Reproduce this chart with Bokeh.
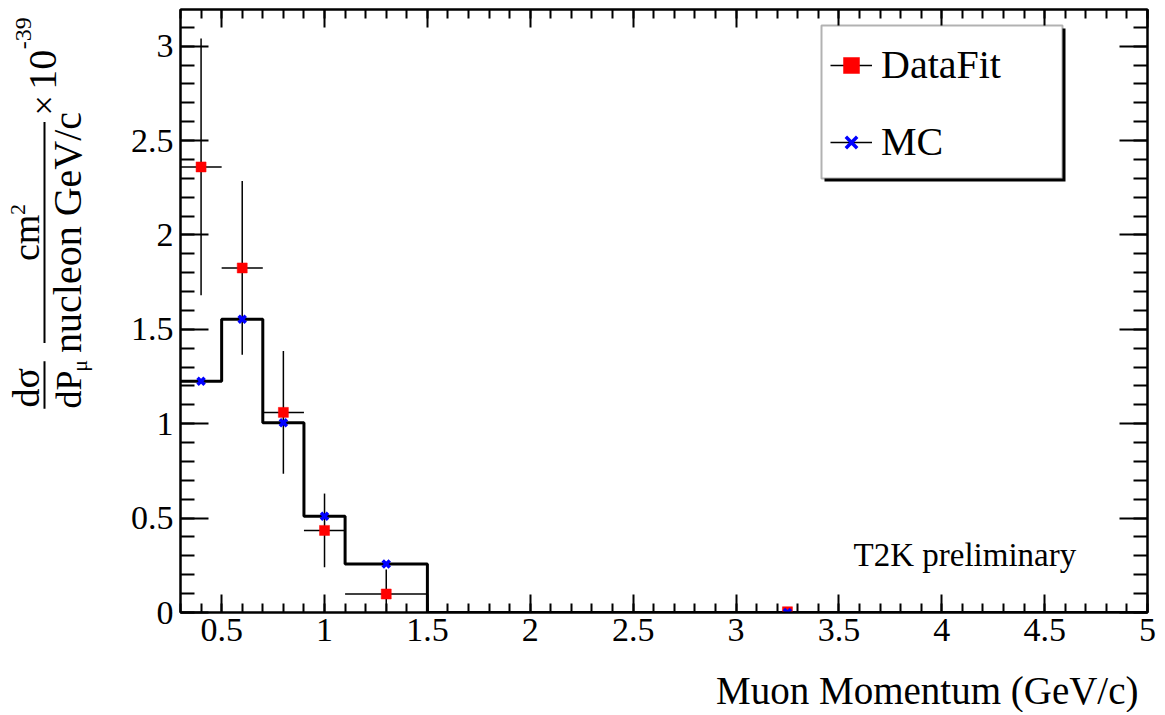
import math
from bokeh.plotting import figure
from bokeh.layouts import row, column
from bokeh.core.properties import value
from bokeh.models import (Range1d, LinearAxis, SingleIntervalTicker, NumeralTickFormatter,
                          CustomJSTickFormatter, Label, BoxAnnotation, Legend, LegendItem,
                          ColumnDataSource)
from bokeh.embed import file_html
from bokeh.resources import INLINE

# ---------------- data ----------------
bin_edges = [0.3, 0.5, 0.7, 0.9, 1.1, 1.5, 5.0]
bin_centers = [0.4, 0.6, 0.8, 1.0, 1.3, 3.25]
datafit = [2.36, 1.825, 1.06, 0.435, 0.098, 0.004]
datafit_err = [0.68, 0.46, 0.325, 0.195, 0.13, 0.004]
mc = [1.225, 1.553, 1.005, 0.51, 0.257, 0.0]
x_ticks_interval = 0.5
y_ticks_interval = 0.5

# ---------------- layout ----------------
XMIN, XMAX = 0.3, 5.0
YMIN, YMAX = 0.0, 3.194
FL, FR, FT, FB = 180, 1147, 9, 612   # frame edges in page pixels
LW = 100                              # width of the y-title strip
TOTAL_W = 1158
MAIN_H = 660
BOT_H = 52
FONT = "Liberation Serif"
BASE_SHIFT = 0.32                     # baseline correction (em)

def X(px):
    return XMIN + (px - FL) * (XMAX - XMIN) / (FR - FL)

def Y(py):
    return YMIN + (FB - py) * (YMAX - YMIN) / (FB - FT)

p = figure(width=TOTAL_W - LW, height=MAIN_H, x_range=Range1d(XMIN, XMAX),
           y_range=Range1d(YMIN, YMAX), output_backend="svg", toolbar_location=None,
           min_border_left=FL - LW, min_border_right=TOTAL_W - FR,
           min_border_top=FT, min_border_bottom=MAIN_H - FB)
p.grid.visible = False
p.outline_line_color = "black"
p.outline_line_width = 2
p.background_fill_color = "white"
p.border_fill_color = "white"

def style_axis(ax, tick_major, tick_minor, interval, labels=True):
    ax.ticker = SingleIntervalTicker(interval=interval, num_minor_ticks=5)
    ax.axis_line_width = 2
    ax.axis_line_color = "black"
    ax.major_tick_in = tick_major
    ax.major_tick_out = 0
    ax.minor_tick_in = tick_minor
    ax.minor_tick_out = 0
    ax.major_tick_line_width = 2
    ax.minor_tick_line_width = 2
    ax.major_tick_line_color = "black"
    ax.minor_tick_line_color = "black"
    ax.major_label_text_font = FONT
    ax.major_label_text_color = "black"
    ax.major_label_text_font_size = "34px"
    if labels:
        ax.formatter = NumeralTickFormatter(format="0.[0]")
    else:
        ax.formatter = CustomJSTickFormatter(code="return '';")
        ax.major_label_standoff = 0

style_axis(p.xaxis[0], 18, 9, x_ticks_interval)
p.xaxis[0].major_label_standoff = 6
style_axis(p.yaxis[0], 28, 14, y_ticks_interval)
p.yaxis[0].major_label_standoff = 7

top = LinearAxis()
style_axis(top, 18, 9, x_ticks_interval, labels=False)
p.add_layout(top, "above")
right = LinearAxis()
style_axis(right, 28, 14, y_ticks_interval, labels=False)
p.add_layout(right, "right")

# ---------------- glyphs ----------------
lo = bin_edges[:-1]
hi = bin_edges[1:]
dsrc = ColumnDataSource(dict(x=bin_centers, y=datafit, lo=lo, hi=hi,
                             ylo=[v - e for v, e in zip(datafit, datafit_err)],
                             yhi=[v + e for v, e in zip(datafit, datafit_err)]))
msrc = ColumnDataSource(dict(x=bin_centers, y=mc, lo=lo, hi=hi))

mc_h = p.segment(x0="lo", x1="hi", y0="y", y1="y", source=msrc, line_color="black", line_width=1.5)
p.step(x=bin_edges, y=mc + [mc[-1]], mode="after", line_color="black", line_width=3)
d_h = p.segment(x0="lo", x1="hi", y0="y", y1="y", source=dsrc, line_color="black", line_width=1.5)
p.segment(x0="x", x1="x", y0="ylo", y1="yhi", source=dsrc, line_color="black", line_width=1.5)
d_sq = p.scatter(x="x", y="y", source=dsrc, marker="square", size=10,
                 fill_color="red", line_color="red", line_width=0.5)
mc_x = p.scatter(x="x", y="y", source=msrc, marker="x", size=10,
                 line_color="blue", line_width=3.5)

# ---------------- legend ----------------
shadow = BoxAnnotation(left=X(824), right=X(1065), top=Y(28), bottom=Y(181),
                       fill_color="black", fill_alpha=1, line_alpha=0)
box = BoxAnnotation(left=X(821), right=X(1062), top=Y(25), bottom=Y(178),
                    fill_color="white", fill_alpha=1, line_color="black", line_width=2)
p.add_layout(shadow)
p.add_layout(box)
legend = Legend(items=[LegendItem(label="DataFit", renderers=[d_h, d_sq]),
                       LegendItem(label="MC", renderers=[mc_h, mc_x])],
                location=(812 - FL, FB - 183), padding=18, spacing=30,
                glyph_width=42, glyph_height=40, label_height=40, label_standoff=9,
                label_text_font=FONT, label_text_font_size="40px", label_text_color="black",
                border_line_alpha=0, background_fill_alpha=0, margin=0)
p.add_layout(legend)

p.add_layout(Label(x=X(853), y=Y(565 - BASE_SHIFT * 33), text="T2K preliminary", text_font=FONT,
                   text_color="black", text_font_size="33px", text_align="left",
                   text_baseline="alphabetic"))

# ---------------- y title strip ----------------
lf = figure(width=LW, height=MAIN_H, x_range=Range1d(0, LW), y_range=Range1d(0, MAIN_H),
            output_backend="svg", toolbar_location=None,
            x_axis_location=None, y_axis_location=None, min_border=0)
lf.grid.visible = False
lf.outline_line_color = None
lf.border_fill_color = "white"

def vtext(text, bx, cy, size, baseline="alphabetic"):
    if baseline == "alphabetic":
        bx = bx - BASE_SHIFT * size
    lf.text(x=[bx], y=[MAIN_H - cy], text=[text], angle=math.pi / 2,
            text_font=value(FONT), text_font_size=value(f"{size}px"),
            text_align="center", text_baseline=baseline, text_color="black")

vtext("dσ", 38, 414, 38)
vtext("dP", 80, 416, 36)
vtext("μ", 86, 390, 22)
vtext("cm", 38, 250, 38)
vtext("2", 25, 219, 22)
vtext("nucleon GeV/c", 80, 244, 40)
vtext("×", 43, 105, 36, baseline="middle")
vtext("10", 55, 66, 40)
vtext("-39", 31, 26, 24)
lf.segment(x0=[44, 44], x1=[44, 44], y0=[MAIN_H - 385, MAIN_H - 123],
           y1=[MAIN_H - 437, MAIN_H - 365], line_color="black", line_width=2)

# ---------------- x title strip ----------------
bf = figure(width=TOTAL_W, height=BOT_H, x_range=Range1d(0, TOTAL_W), y_range=Range1d(0, BOT_H),
            output_backend="svg", toolbar_location=None,
            x_axis_location=None, y_axis_location=None, min_border=0)
bf.grid.visible = False
bf.outline_line_color = None
bf.border_fill_color = "white"
bf.text(x=[1138], y=[MAIN_H + BOT_H - (702 - BASE_SHIFT * 39)], text=["Muon Momentum (GeV/c)"],
        text_font=value(FONT), text_font_size=value("39px"), text_align="right",
        text_baseline="alphabetic", text_color="black")

layout = column(row(lf, p, spacing=0), bf, spacing=0)
open("out.html", "w").write(file_html(layout, INLINE))
